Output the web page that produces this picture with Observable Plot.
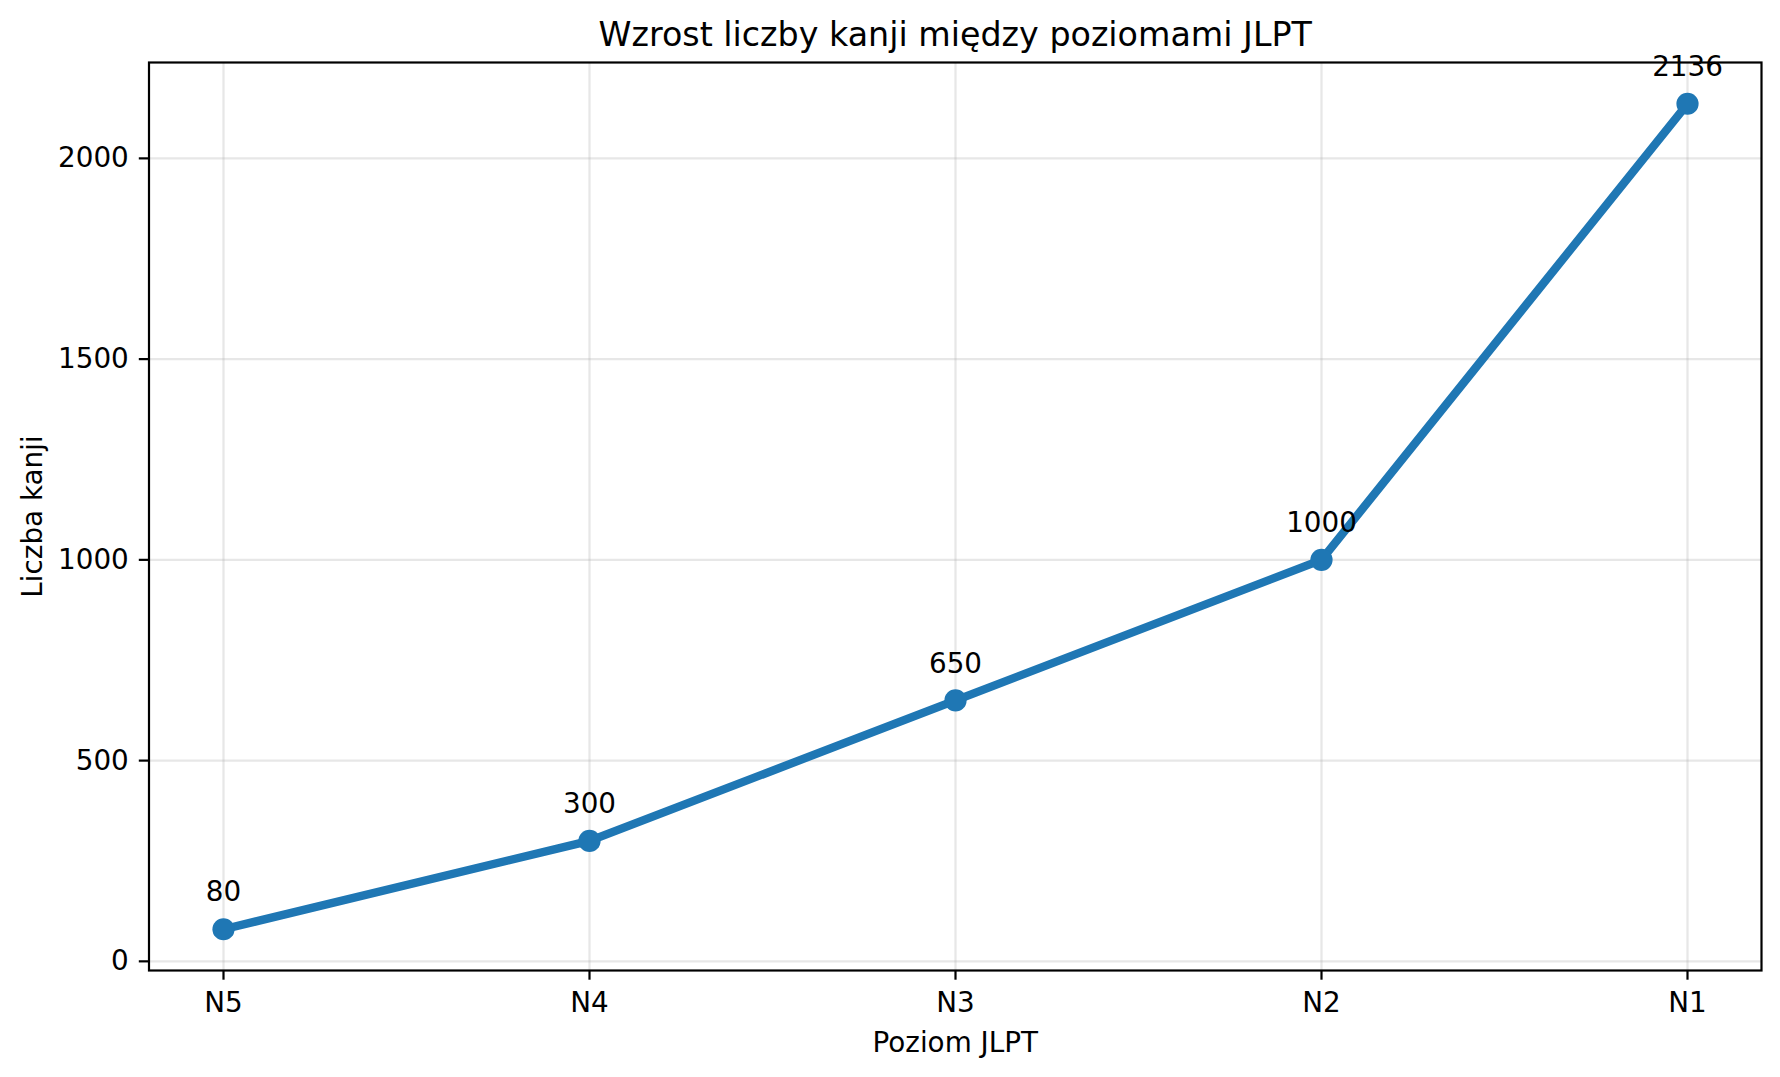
<!DOCTYPE html>
<html>
<head>
<meta charset="utf-8">
<script src="https://cdn.jsdelivr.net/npm/d3@7"></script>
<script src="https://cdn.jsdelivr.net/npm/@observablehq/plot@0.6"></script>
<style>
  html, body { margin: 0; padding: 0; background: #ffffff; }
  #chart svg { display: block; }
</style>
</head>
<body>
<div id="chart"></div>
<script>
const levels = ["N5", "N4", "N3", "N2", "N1"];
const kanjiCounts = [80, 300, 650, 1000, 2136];
const yTicks = [0, 500, 1000, 1500, 2000];
const titleText = "Wzrost liczby kanji między poziomami JLPT";
const xLabel = "Poziom JLPT";
const yLabel = "Liczba kanji";

const data = levels.map((level, i) => ({level, count: kanjiCounts[i]}));

const yMin = d3.min(kanjiCounts), yMax = d3.max(kanjiCounts);
const pad = (yMax - yMin) * 0.05;

const W = 1780, H = 1077;
const mL = 148.5, mR = 19, mT = 62, mB = 107;
const fs = 27.8;
const lw = 2.2;
const blue = "#1f77b4";

const chart = Plot.plot({
  width: W,
  height: H,
  marginLeft: mL,
  marginRight: mR,
  marginTop: mT,
  marginBottom: mB,
  style: {fontFamily: "DejaVu Sans, sans-serif", fontSize: fs + "px", color: "black", background: "white"},
  x: {type: "point", domain: levels, padding: 0.2, label: null},
  y: {domain: [yMin - pad, yMax + pad], label: null},
  marks: [
    Plot.gridX({stroke: "#b0b0b0", strokeOpacity: 0.3, strokeWidth: lw}),
    Plot.gridY(yTicks, {stroke: "#b0b0b0", strokeOpacity: 0.3, strokeWidth: lw}),
    Plot.line(data, {x: "level", y: "count", stroke: blue, strokeWidth: 8.33, strokeLinejoin: "round"}),
    Plot.dot(data, {x: "level", y: "count", r: 11.1, fill: blue, stroke: null}),
    Plot.text(data, {x: "level", y: "count", text: d => String(d.count), dy: -27.8, lineAnchor: "bottom", textAnchor: "middle", fontSize: fs, fill: "black"}),
    Plot.frame({stroke: "black", strokeWidth: lw}),
    Plot.axisX({tickSize: 9.7, tickPadding: 12.5, strokeWidth: lw, stroke: "black", fontSize: fs, label: null}),
    Plot.axisY(yTicks, {tickSize: 9.7, tickPadding: 10.5, strokeWidth: lw, stroke: "black", fontSize: fs, label: null, tickFormat: d => String(d)}),
    Plot.text([titleText], {frameAnchor: "top", dy: -16.5, lineAnchor: "bottom", textAnchor: "middle", fontSize: 33.3, fill: "black"}),
    Plot.text([xLabel], {frameAnchor: "bottom", dy: 81.7, lineAnchor: "bottom", textAnchor: "middle", fontSize: fs, fill: "black"}),
    Plot.text([yLabel], {frameAnchor: "left", dx: 41.7 - mL, rotate: -90, lineAnchor: "bottom", textAnchor: "middle", fontSize: fs, fill: "black"})
  ]
});

document.getElementById("chart").appendChild(chart);
</script>
</body>
</html>
